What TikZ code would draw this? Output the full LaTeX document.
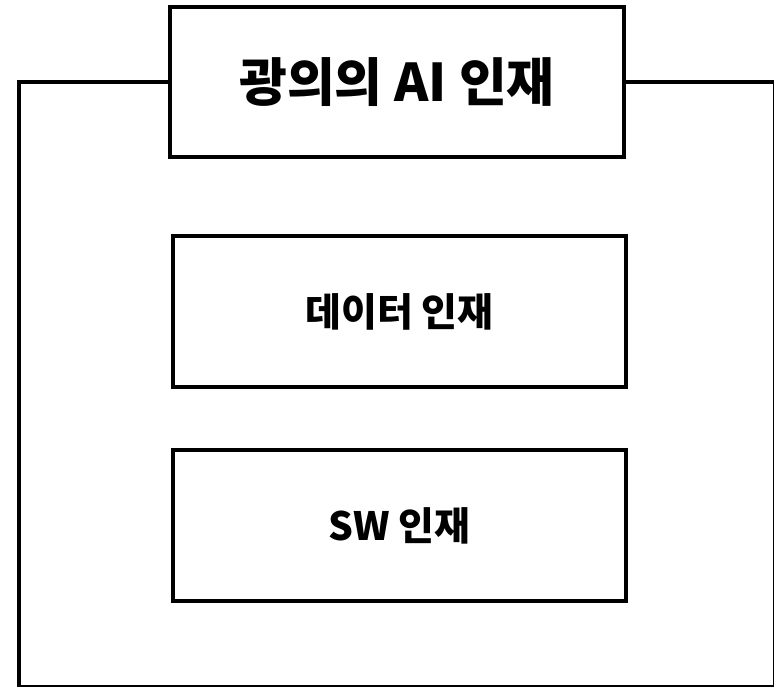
\documentclass[tikz,border=0pt]{standalone}
\usepackage{fontspec}
\setmainfont{Noto Sans CJK KR}
\begin{document}
\begin{tikzpicture}[x=1pt,y=-1pt,
  frame/.style={draw=black,line width=4pt,fill=white,inner sep=0pt,rectangle},
  titletext/.style={font=\fontsize{52}{60}\selectfont\bfseries},
  boxtext/.style={font=\fontsize{39}{46}\selectfont\bfseries}]
\useasboundingbox (0,0) rectangle (774,687);
\fill[white] (0,0) rectangle (774,687);
\node[frame,minimum width=755.5pt,minimum height=604.5pt] (outer) at (396.75,384.75) {};
\node[frame,minimum width=454pt,minimum height=150pt,titletext] (title) at (397,82.5) {광의의 AI 인재};
\node[frame,minimum width=453pt,minimum height=150.5pt,boxtext] (data) at (399.5,311.75) {데이터 인재};
\node[frame,minimum width=453pt,minimum height=151pt,boxtext] (sw) at (399.5,525.5) {SW 인재};
\end{tikzpicture}
\end{document}
